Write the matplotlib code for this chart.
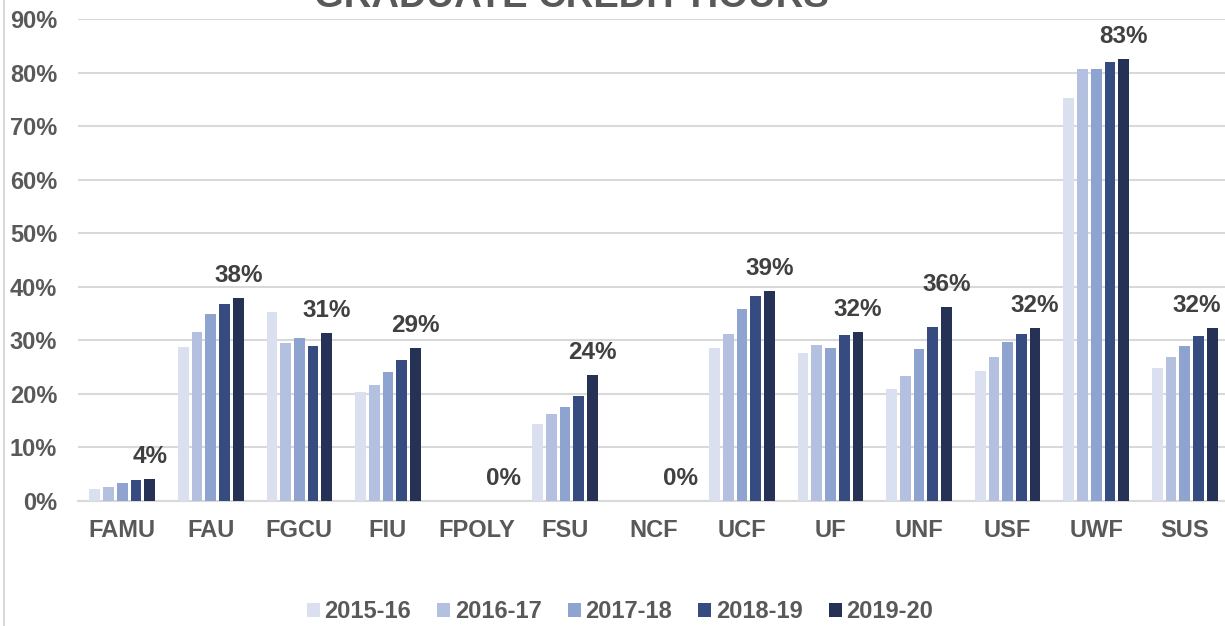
import matplotlib
matplotlib.use("Agg")
import matplotlib.pyplot as plt
import numpy as np
from matplotlib.lines import Line2D
from matplotlib.ticker import FuncFormatter

plt.rcParams['font.family'] = ['Liberation Sans', 'DejaVu Sans']
plt.rcParams['font.weight'] = 'bold'

schools = ['FAMU', 'FAU', 'FGCU', 'FIU', 'FPOLY', 'FSU', 'NCF',
           'UCF', 'UF', 'UNF', 'USF', 'UWF', 'SUS']
years = ['2015-16', '2016-17', '2017-18', '2018-19', '2019-20']

# share of graduate credit hours (%), one list per year
y2015 = [2.3, 28.8, 35.3, 20.4, 0, 14.4, 0, 28.6, 27.7, 20.9, 24.2, 75.2, 24.9]
y2016 = [2.7, 31.5, 29.5, 21.6, 0, 16.3, 0, 31.1, 29.1, 23.4, 26.8, 80.6, 26.9]
y2017 = [3.3, 34.9, 30.5, 24.1, 0, 17.5, 0, 35.9, 28.6, 28.4, 29.7, 80.6, 28.9]
y2018 = [4.0, 36.8, 29.0, 26.4, 0, 19.6, 0, 38.3, 31.0, 32.4, 31.1, 81.9, 30.8]
y2019 = [4.2, 37.9, 31.3, 28.6, 0, 23.6, 0, 39.2, 31.6, 36.2, 32.3, 82.6, 32.3]
series = [y2015, y2016, y2017, y2018, y2019]

colors = ['#DAE0EF', '#B4C0E0', '#8FA3D0', '#364C80', '#253255']
TICK_GRAY = '#595959'
LABEL_GRAY = '#404040'

fig = plt.figure(figsize=(12.25, 6.26), dpi=100)
# plot area runs slightly past the right edge (chart is cropped)
ax = fig.add_axes([78 / 1225, 1 - 501 / 626, 1151 / 1225, 482 / 626])

x = np.arange(len(schools))
pitch = 0.155
width = 0.121
for i, (vals, c) in enumerate(zip(series, colors)):
    ax.bar(x + (i - 2) * pitch, np.array(vals) / 100, width, color=c,
           label=years[i], zorder=3)

# value labels above latest year
for xi, v in zip(x, y2019):
    dx = -11 if xi == len(schools) - 1 else 0  # keep last one inside
    ax.annotate('%d%%' % round(v), (xi + 2 * pitch, v / 100),
                xytext=(dx, 11.5), textcoords='offset points',
                ha='center', va='baseline', fontsize=17.5,
                fontweight='bold', color=LABEL_GRAY)

ax.set_xlim(-0.5, len(schools) - 0.5)
ax.set_ylim(0, 0.9)
ax.set_yticks(np.arange(0, 0.91, 0.1))
ax.yaxis.set_major_formatter(FuncFormatter(lambda v, p: '%d%%' % round(v * 100)))
ax.set_xticks(x)
ax.set_xticklabels(schools)
ax.tick_params(axis='both', length=0, labelsize=17, labelcolor=TICK_GRAY)
ax.tick_params(axis='y', pad=15)
ax.tick_params(axis='x', pad=13)
for lbl in ax.get_xticklabels() + ax.get_yticklabels():
    lbl.set_fontweight('bold')

ax.grid(axis='y', color='#D9D9D9', linewidth=1.5, zorder=0)
for s in ['top', 'right', 'left']:
    ax.spines[s].set_visible(False)
ax.spines['bottom'].set_color('#D9D9D9')
ax.spines['bottom'].set_linewidth(1.5)

fig.text(571 / 1225, 1 - 7 / 626, 'GRADUATE CREDIT HOURS', ha='center',
         va='baseline', fontsize=27.5, fontweight='bold', color=TICK_GRAY)

fig.legend(loc='center', bbox_to_anchor=(620 / 1225, 1 - 612 / 626),
           ncol=5, frameon=False, handlelength=0.55,
           handleheight=0.55, handletextpad=0.2, columnspacing=1.1,
           labelcolor=TICK_GRAY, prop={'weight': 'bold', 'size': 17})

fig.add_artist(Line2D([4 / 1225, 4 / 1225], [0, 1], transform=fig.transFigure,
                      color='#D9D9D9', linewidth=1.5))

fig.savefig('out.png', dpi=100)
